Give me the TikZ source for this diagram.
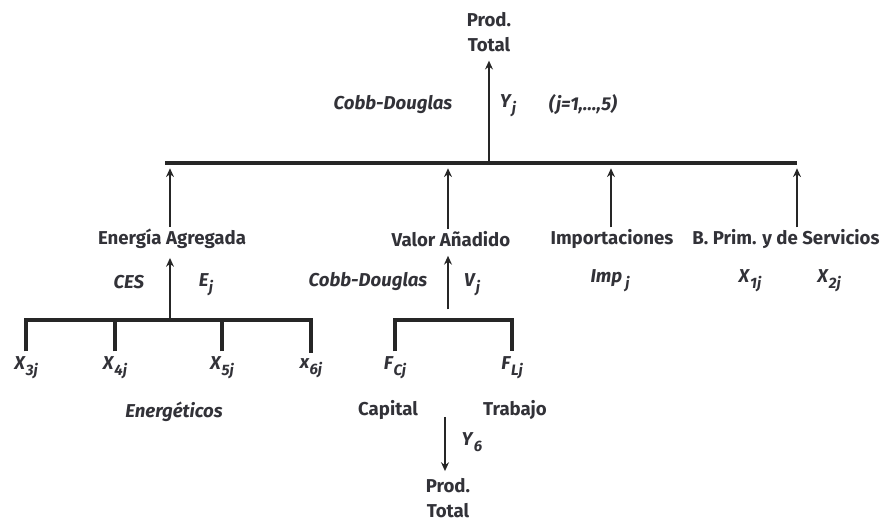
\documentclass[tikz,border=0pt]{standalone}
\usepackage{fontspec}
\setmainfont{Fira Sans}
\usetikzlibrary{arrows.meta,positioning}
\definecolor{ink}{RGB}{50,50,56}
\newcommand{\sv}[2]{\textit{#1}\raisebox{-0.6ex}{\fontsize{8.6}{9}\selectfont\itshape #2}}

\begin{document}
\begin{tikzpicture}[font=\bfseries\fontsize{10.6}{14}\selectfont, text=ink,
      lbl/.style={align=center, inner sep=1pt},
      bar/.style={line width=1.9pt, draw=black!85},
      up/.style={line width=1.5pt, draw=black!85, -{Stealth[length=5pt,width=4.5pt]}}]
      \useasboundingbox (0,0) rectangle (17.74,10.46);
      % top level
      \node (topTot) [lbl] at (9.78,9.82) {Prod.\\Total};
      \node (cdTop) [lbl] at (7.86,8.36) {\textit{Cobb-Douglas}};
      \node (yj) [lbl] at (10.16,8.34) {\sv{Y}{j}};
      \node (jrange) [lbl] at (11.66,8.36) {\textit{(j=1,...,5)}};
      \coordinate (tl) at (3.30,7.20);
      \coordinate (tr) at (15.94,7.20);
      \draw[bar] (tl) -- (tr);
      \draw[up] (topTot |- tl) -- ([yshift=-4pt]topTot.south);
      % inputs
      \node (energia) [lbl] at (3.44,5.68) {Energía Agregada};
      \node (valor) [lbl] at (9.02,5.68) {Valor Añadido};
      \node (import) [lbl] at (12.24,5.68) {Importaciones};
      \node (bprim) [lbl] at (15.72,5.68) {B. Prim. y de Servicios};
      \draw[up] (energia.north -| 3.40,0) -- ([yshift=-3pt]tl -| 3.40,0);
      \draw[up] (valor.north -| 8.96,0) -- ([yshift=-3pt]tl -| 8.96,0);
      \draw[up] (import.north -| 12.22,0) -- ([yshift=-3pt]tl -| 12.22,0);
      \draw[up] (bprim.north -| tr) -- ([yshift=-3pt]tr);
      \node (imp) [lbl] at (12.20,4.84) {\textit{Imp}\,\raisebox{-0.6ex}{\fontsize{8.6}{9}\selectfont\itshape j}};
      \node (x1) [lbl] at (15.00,4.84) {\sv{X}{1j}};
      \node (x2) [lbl] at (16.58,4.84) {\sv{X}{2j}};
      % energia
      \node (ces) [lbl] at (2.58,4.82) {\textit{CES}};
      \node (ej) [lbl] at (4.12,4.76) {\sv{E}{j}};
      \coordinate (ebar) at (3.40,4.06);
      \node (x3) [lbl] at (0.52,3.10) {\sv{X}{3j}};
      \node (x4) [lbl] at (2.30,3.10) {\sv{X}{4j}};
      \node (x5) [lbl] at (4.44,3.10) {\sv{X}{5j}};
      \node (x6) [lbl] at (6.22,3.10) {\sv{x}{6j}};
      \draw[bar] ([yshift=2pt]x3.north) |- (ebar) -| ([yshift=2pt]x6.north);
      \draw[bar] ([yshift=2pt]x4.north) -- (x4 |- ebar)
                 ([yshift=2pt]x5.north) -- (x5 |- ebar);
      \draw[up] (ebar) -- ([yshift=-4pt]energia.south -| ebar);
      \node (energ) [lbl] at (3.48,2.22) {\textit{Energéticos}};
      % valor
      \node (cdVal) [lbl] at (7.36,4.82) {\textit{Cobb-Douglas}};
      \node (vj) [lbl] at (9.44,4.76) {\sv{V}{j}};
      \coordinate (vbar) at (8.96,4.06);
      \node (fc) [lbl] at (7.90,3.10) {\sv{F}{Cj}};
      \node (fl) [lbl] at (10.24,3.10) {\sv{F}{Lj}};
      \draw[bar] ([yshift=2pt]fc.north) |- (vbar) -| ([yshift=2pt]fl.north);
      \draw[up] ([yshift=6pt]vbar) -- ([yshift=-4pt]valor.south -| vbar);
      \node (capital) [lbl] at (7.76,2.26) {Capital};
      \node (trabajo) [lbl] at (10.30,2.26) {Trabajo};
      \node (y6) [lbl] at (9.44,1.62) {\sv{Y}{6}};
      \node (botTot) [lbl] at (8.96,0.50) {Prod.\\Total};
      \draw[up] (8.90,2.12) -- ([yshift=3pt]botTot.north -| 8.90,0);
\end{tikzpicture}
\end{document}
